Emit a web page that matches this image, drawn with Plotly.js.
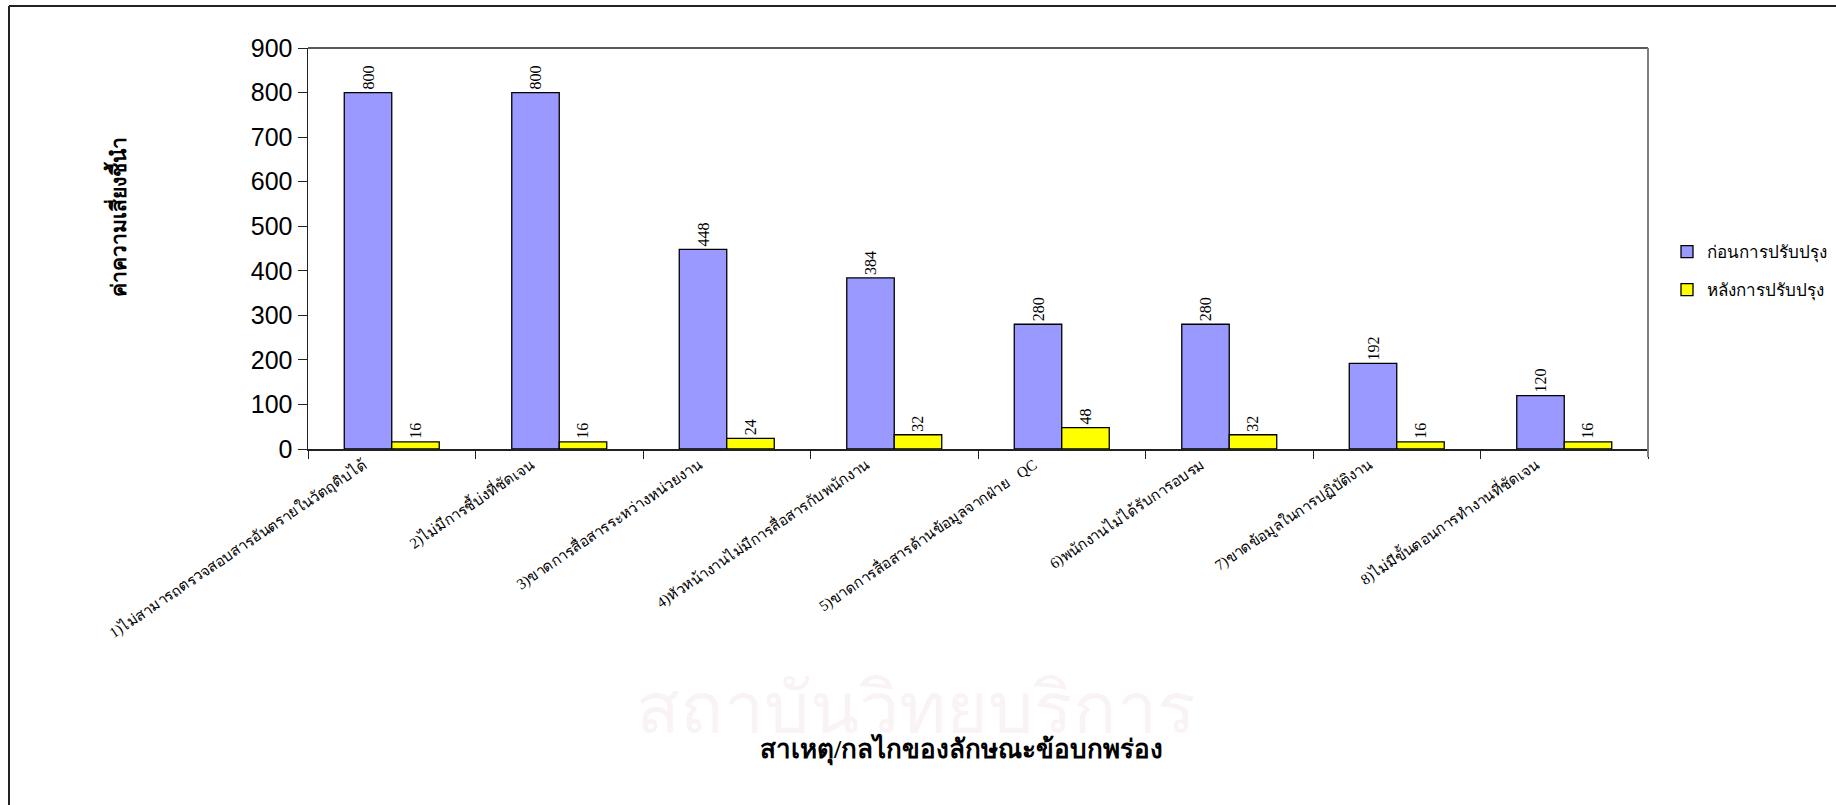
<!DOCTYPE html>
<html>
<head>
<meta charset="utf-8">
<script src="https://cdn.plot.ly/plotly-3.0.1.min.js"></script>
<style>
  html, body { margin: 0; padding: 0; background: #fff; }
  #chart { width: 1836px; height: 805px; }
</style>
</head>
<body>
<div id="chart"></div>
<script>
const categories = [
  "1)ไม่สามารถตรวจสอบสารอันตรายในวัตถุดิบได้",
  "2)ไม่มีการชี้บ่งที่ชัดเจน",
  "3)ขาดการสื่อสารระหว่างหน่วยงาน",
  "4)หัวหน้างานไม่มีการสื่อสารกับพนักงาน",
  "5)ขาดการสื่อสารด้านข้อมูลจากฝ่าย   QC",
  "6)พนักงานไม่ได้รับการอบรม",
  "7)ขาดข้อมูลในการปฏิบัติงาน",
  "8)ไม่มีขั้นตอนการทำงานที่ชัดเจน"
];
const beforeValues = [800, 800, 448, 384, 280, 280, 192, 120];
const afterValues = [16, 16, 24, 32, 48, 32, 16, 16];
const seriesNames = ["ก่อนการปรับปรุง", "หลังการปรับปรุง"];
const yTicks = [0, 100, 200, 300, 400, 500, 600, 700, 800, 900];
const xTitle = "สาเหตุ/กลไกของลักษณะข้อบกพร่อง";
const yTitle = "ค่าความเสี่ยงชี้นำ";
const watermark1 = "สถาบันวิทยบริการ";

const W = 1836, H = 805;
const L = 308, R = 1648, T = 48, B = 449;
const pw = R - L, ph = B - T;
const px = x => (x - L) / pw;
const py = y => (B - y) / ph;

const serif = "'Liberation Serif', 'Times New Roman', serif";
const sans = "'Liberation Sans', Arial, sans-serif";

const labelFont = {family: serif, size: 16, color: '#000'};

const traces = [
  {
    type: 'bar', x: categories, y: beforeValues, name: seriesNames[0],
    marker: {color: '#9999FF', line: {color: '#000', width: 1.3}},
    text: beforeValues.map(String), textposition: 'outside', textangle: -90,
    textfont: labelFont, cliponaxis: false, legend: 'legend', hoverinfo: 'x+y'
  },
  {
    type: 'bar', x: categories, y: afterValues, name: seriesNames[1],
    marker: {color: '#FFFF00', line: {color: '#000', width: 1.3}},
    text: afterValues.map(String), textposition: 'outside', textangle: -90,
    textfont: labelFont, cliponaxis: false, legend: 'legend2', hoverinfo: 'x+y'
  }
];

const legendBase = {
  xref: 'container', yref: 'container',
  xanchor: 'left', yanchor: 'middle', bgcolor: 'rgba(0,0,0,0)',
  font: {family: serif, size: 17, color: '#000'}, itemwidth: 30, borderwidth: 0
};

const layout = {
  width: W, height: H,
  margin: {l: L, r: W - R, t: T, b: H - B, pad: 0},
  paper_bgcolor: '#fff', plot_bgcolor: 'rgba(0,0,0,0)',
  barmode: 'group', bargap: 0.433, bargroupgap: 0,
  showlegend: true,
  legend: Object.assign({}, legendBase, {x: 1667 / W, y: 1 - 252 / H}),
  legend2: Object.assign({}, legendBase, {x: 1667 / W, y: 1 - 290 / H}),
  xaxis: {
    type: 'category', showgrid: false, zeroline: false,
    showline: true, linecolor: '#222', linewidth: 1.5,
    ticks: 'outside', tickson: 'boundaries', ticklen: 8, tickcolor: '#222',
    tickangle: -34, ticklabelshift: -28,
    tickfont: {family: serif, size: 15, color: '#000'},
    automargin: false
  },
  yaxis: {
    range: [0, 900], tickvals: yTicks, ticktext: yTicks.map(String),
    showgrid: false, zeroline: false,
    showline: true, linecolor: '#222', linewidth: 1.5,
    ticks: 'outside', ticklen: 9, tickcolor: '#222',
    tickfont: {family: sans, size: 25, color: '#000'},
    automargin: false
  },
  shapes: [
    {type: 'line', xref: 'paper', yref: 'paper', x0: 0, x1: 1, y0: 1, y1: 1,
     line: {color: '#222', width: 1.3}},
    {type: 'line', xref: 'paper', yref: 'paper', x0: 1, x1: 1, y0: py(457), y1: 1,
     line: {color: '#808080', width: 2}},
    {type: 'line', xref: 'paper', yref: 'paper', x0: px(9), x1: px(9), y0: py(820), y1: py(6),
     line: {color: '#222', width: 2}},
    {type: 'line', xref: 'paper', yref: 'paper', x0: px(9), x1: px(1850), y0: py(6), y1: py(6),
     line: {color: '#222', width: 2}}
  ],
  annotations: [
    {text: watermark1, xref: 'paper', yref: 'paper', x: px(916), y: py(708),
     xanchor: 'center', yanchor: 'middle', showarrow: false,
     font: {family: sans, size: 72, color: 'rgba(200,120,150,0.09)'}},
    {text: '<b>' + xTitle + '</b>', xref: 'paper', yref: 'paper', x: px(961), y: py(749),
     xanchor: 'center', yanchor: 'middle', showarrow: false,
     font: {family: serif, size: 26, color: '#000'}},
    {text: '<b>' + yTitle + '</b>', xref: 'paper', yref: 'paper', x: px(117), y: py(217),
     xanchor: 'center', yanchor: 'middle', showarrow: false, textangle: -90,
     font: {family: serif, size: 21, color: '#000'}}
  ]
};

Plotly.newPlot('chart', traces, layout, {displayModeBar: false, staticPlot: true});
</script>
</body>
</html>
